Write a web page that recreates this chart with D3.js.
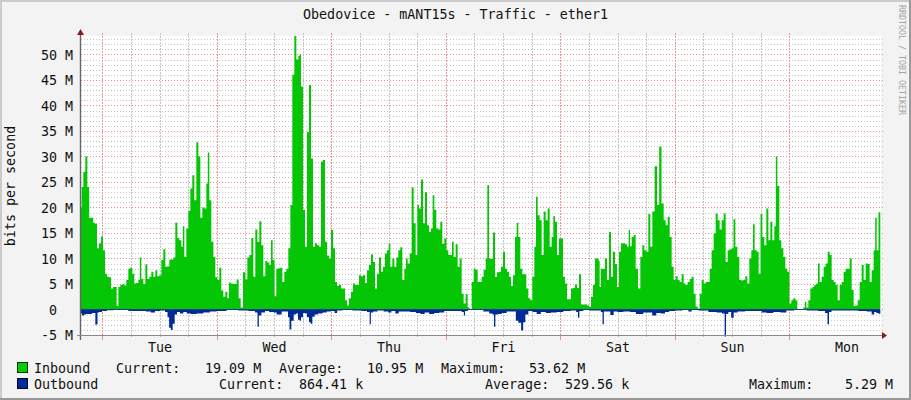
<![CDATA[<!DOCTYPE html>
<html><head><meta charset="utf-8">
<script src="https://d3js.org/d3.v7.min.js"></script>
<style>
html,body{margin:0;padding:0;background:#f3f3f3;overflow:hidden}
text{font-family:"DejaVu Sans Mono",monospace;font-size:13.33px;fill:#111;white-space:pre}
</style></head><body><svg id="c" width="911" height="400"></svg>
<script>
// Time is in ticks since the left edge of the chart (1 tick is about 4.2 minutes).
const tickBase = [-243, 657, 1557];
const inT1 = [243,247,253,259,265,270,276,282,288,294,300,306,312,318,324,330,336,342,348,352,358,364,370,376,382,388,394,400,406,412,418,421,427,433,439,445,451,457,463,469,475,481,487,493,499,505,511,517,523,529,535,541,547,550,556,562,568,574,580,586,592,598,604,610,616,622,625,631,637,643,649,655,661,667,673,679,685,689,695,701,707,713,719,725,733,739,745,751,757,763,769,775,781,787,793,799,805,811,815,821,826,832,838,844,850,856,862,868,874,880,886,892,898];
const inV1 = [20,24,27,30,24,18,18,17,16.8,12,13,14.3,11.6,7,6.4,6.3,4.1,4.4,4.4,0.7,4.4,4.8,5,4.7,5.8,8,8.2,7,5.1,5.2,5.8,10.2,6,5,8.8,6,6.4,7.4,6.4,7.7,6.5,6.7,9.7,11.8,8.4,8.5,9.8,9.8,10.2,17,14,13.6,12.3,16.3,10.3,15.9,19.3,23.7,26.3,21.4,32.8,30,18,20,19.8,24.7,30.8,21.4,13.3,10.3,6.3,5.8,8.2,3.7,2.5,3.5,2.2,5.3,5.1,5,5,5.9,2.2,0.4,7.3,5.9,10.2,10.7,14,6.4,15.7,13.3,17.3,12.6,6.5,9.5,9.2,8.7,13.6,9.7,2.6,8,8.1,8.2,5.4,7.4,8,12,20.5,46,53.62,49,49.7];
const inT2 = [0,6,12,18,24,30,36,42,48,54,60,66,72,78,84,90,96,102,108,114,120,126,132,138,144,150,156,162,168,174,180,186,192,198,204,210,216,222,228,234,240,246,252,258,264,268,274,280,286,292,298,304,310,316,320,326,332,338,344,350,354,360,366,372,378,384,390,396,400,406,412,418,424,430,436,442,448,454,458,464,470,476,482,488,494,500,506,512,518,524,530,536,542,548,554,560,564,570,576,582,588,594,600,606,612,618,624,630,636,642,648,652,658,664,670,676,682,688,694,700,706,710,716,722,728,734,740,746,752,758,762,768,774,780,786,792,798,804,810,816,822,828,834,840,846,852,858,864,870,876,882,888,894];
const inV2 = [50,43.7,19.5,12.3,34.8,44,29.6,12.3,13,12.6,12.3,29,29.3,13.3,10.6,10,15.6,12,5.4,4.6,4.8,4.1,4.1,1.8,0.8,2.2,3.5,5.1,4.8,4.8,6.7,6.5,6.7,5.2,7.7,8.7,10.8,9.3,4.1,7,10.2,7.4,8.4,11,11.6,12.9,8.4,10,8.4,10.2,11.6,12.2,5.8,8,10,9,11,23.9,16.9,10.7,20.5,19.8,25.5,16.9,23,16.5,15.2,15.9,22.4,19.5,15.9,15.7,17.2,12.9,13.9,11.6,10.7,10.7,13.3,10.3,12.8,8.4,10,3.1,1.2,3,0.4,0.1,5.4,8,7.8,5.4,5.4,6.4,7.8,10,24.4,10,9.9,15.1,6.4,7.3,7.4,8.4,11.3,8,7.4,6.4,4.6,6.7,14.2,17,14.2,8,6.9,6.9,4.1,2.2,1.8,6.4,12.3,22.1,18.5,17.5,10.7,19.2,17.5,19.8,12.3,14.2,18.3,17.2,10.7,13.9,13.9,6.4,5.1,2,2,4.1,4.2,4.9,4.2,6.9,1,1,1,0.8,0.5,2.5,4.8,10,10];
const inT3 = [-2,0,6,12,18,24,30,36,42,48,54,60,66,72,78,84,88,92,98,104,110,118,124,130,136,142,148,154,160,168,174,181,188,194,200,206,212,218,224,230,236,242,248,254,260,266,272,278,284,290,296,302,308,314,320,326,332,338,344,350,356,362,368,374,380,386,392,398,403,409,415,421,427,433,439,445,451,457,461,467,473,479,484,490,496,502,508,514,520,526,529,535,541,547,553,559,565,571,577,583,589,595,601,607,613,616,622,628,634,640,646,652,656,662,668,674,680,686,692,698,704,710,716,722,728,734,740,746,752,758,764,770,776,782,788,794,800,806,812,818,824,827,833,838,841];
const inV3 = [9.5,4.4,8,8,10,5.8,15.2,6.4,11.3,8.9,4.4,11.3,13,13,12.8,12.3,15.6,12.4,14.2,14.6,8,4.1,10.3,12.6,11.6,11.3,18.7,12.3,19.2,28.1,20.5,31.9,20.8,17.5,16.5,18.2,14.2,8.4,5.8,6.5,5.8,5.4,6.9,5.1,4.8,5.4,6,6.4,3.1,0.6,0.2,3.1,5.8,5.1,5.4,5.4,8,11.6,14.9,18.8,17.5,15.7,17.5,18.8,9.3,11.6,11.8,12,17.7,12.3,10.3,5.8,5.7,5.8,6.5,5.1,10,11.6,16.7,11.6,11.3,7,18.7,14.2,12.6,19.8,13.6,17.2,13.6,16.3,30,24.2,13.6,12,10.3,8,7.4,1.2,1.8,2.2,1.8,0.1,0.05,0.1,0.4,1.5,0.4,1.8,4.1,4.4,4.8,5.1,9,5.4,6.4,8.4,9,11.3,10.7,5.8,5.4,4.8,1.8,4.8,5.4,7.4,8,8,10,3.8,0.7,0.8,1.8,5.4,8.7,5.8,9,8.9,5.4,7.7,11.6,18,11.6,19.09,19.09];
const outT1 = [243,249,255,261,267,273,279,284,288,291,294,300,312,330,350,380,390,410,430,445,460,470,490,500,505,510,515,521,527,535,545,555,565,580,600,620,640,660,700,730,760,770,775,778,790,800,815,828,832,840,850,862,866,871,877,885,890,898];
const outV1 = [0.8,1.2,1,0.9,0.9,0.9,0.7,0.7,3,2.9,0.6,0.5,0.3,0.15,0.1,0.1,0.3,0.3,0.3,0.4,0.6,0.3,0.2,0.5,1.5,3.6,4,2.8,1,0.5,0.8,0.5,0.8,0.9,0.8,0.6,0.4,0.3,0.1,0.2,0.3,0.6,3.4,1.2,0.6,0.3,0.5,0.6,1,1,0.4,0.4,1.5,3.9,2.2,1,0.8,2];
const outT2 = [0,6,12,18,24,30,34,40,48,60,75,85,100,108,115,140,175,195,207,211,214,225,240,262,268,280,292,300,320,340,355,368,380,395,410,425,440,460,480,490,493,497,510,540,560,575,580,584,588,600,610,630,645,650,660,667,672,680,690,705,715,730,745,760,780,800,825,832,836,840,860,875,890];
const outV2 = [2.2,1.5,0.7,0.8,1.5,2.5,2.8,1.4,1,0.8,0.6,0.4,0.3,0.7,0.2,0.1,0.2,0.3,0.5,2.9,0.6,0.4,0.2,0.4,0.6,0.3,0.8,0.4,0.4,0.5,0.7,0.9,0.6,0.9,0.7,0.6,0.3,0.3,0.3,0.5,1.2,0.3,0.1,0.1,0.4,0.8,1,3.4,1,0.9,0.7,0.4,0.4,2.2,2.6,4.1,2.5,1,0.3,0.5,0.9,0.5,0.7,0.6,0.5,0.3,0.2,0.5,1.6,0.3,0.1,0.2,0.2];
const outT3 = [0,5,10,13,25,37,45,60,80,100,115,125,135,150,163,175,190,200,215,235,260,270,280,310,340,360,372,376,380,390,397,405,420,450,480,490,510,530,553,565,600,640,670,680,685,689,700,730,760,790,810,820,825,833,838,841];
const outV3 = [0.2,0.5,2.9,0.4,0.4,1.1,0.4,0.5,0.4,0.5,0.9,0.9,0.6,0.6,1.2,0.7,0.8,0.5,0.3,0.2,0.1,0.4,0.1,0.2,0.5,0.6,0.8,5.29,0.9,0.5,1.6,0.6,0.4,0.3,0.3,0.6,0.7,0.5,0.6,0.2,0.05,0.2,0.3,0.7,2.9,0.5,0.2,0.2,0.2,0.3,0.4,1,0.5,0.7,0.85,0.85];

const dayLabels = ["Tue","Wed","Thu","Fri","Sat","Sun","Mon"];
const yTickValues = [-5,0,5,10,15,20,25,30,35,40,45,50];
const titleText = "Obedovice - mANT15s - Traffic - ether1";
const legendRows = [
  {name:"Inbound", color:"#00cc00", stroke:"#003300", cells:["Current:","19.09 M","Average:","10.95 M","Maximum:","53.62 M"], at:[116,205,279,367,441,529]},
  {name:"Outbound", color:"#002a97", stroke:"#000033", cells:["Current:","864.41 k","Average:","529.56 k","Maximum:","5.29 M"], at:[219,299,485,565,749,845]}
];

const W = 911, H = 400, L = 81, R = 881, T = 36, B = 335;
const ticksPerHour = 343.5 / 24, firstMidnightTick = 64, totalTicks = 2400;
const hourTick = h => firstMidnightTick + h * ticksPerHour;

const zip = (ts, vs, base) => ts.map((t, i) => ({t: t + base, v: vs[i]}));
const inbound = [...zip(inT1, inV1, tickBase[0]), ...zip(inT2, inV2, tickBase[1]), ...zip(inT3, inV3, tickBase[2])];
const outbound = [...zip(outT1, outV1, tickBase[0]), ...zip(outT2, outV2, tickBase[1]), ...zip(outT3, outV3, tickBase[2])];

const x = d3.scaleLinear().domain([0, totalTicks]).range([L, R]);
const y = d3.scaleLinear().domain([-5, 53.62]).range([B, T]);

const svg = d3.select("#c");
svg.append("rect").attr("width", W).attr("height", H).attr("fill", "#f3f3f3");
svg.append("path").attr("d", `M0 0H${W}V2H2V${H}H0Z`).attr("fill", "#cbcbcb");
svg.append("path").attr("d", `M${W} ${H}H0V${H-2}H${W-2}V0H${W}Z`).attr("fill", "#999");
svg.append("rect").attr("x", L).attr("y", T).attr("width", R - L).attr("height", B - T).attr("fill", "#fff");

const snap = v => Math.round(v) + 0.5;
const hours = d3.range(0, 169, 6).map(h => h - 24).filter(h => hourTick(h) > 0 && hourTick(h) < totalTicks);
const gridMinorY = d3.range(-5, 54, 1);
svg.append("g").selectAll("line").data(gridMinorY.filter(v => v % 5)).join("line")
  .attr("x1", L).attr("x2", R + 3).attr("y1", d => snap(y(d))).attr("y2", d => snap(y(d)))
  .attr("stroke", "#c8c8c8").attr("stroke-dasharray", "1 2");
svg.append("g").selectAll("line").data(hours.filter(h => h % 24)).join("line")
  .attr("x1", d => snap(x(hourTick(d)))).attr("x2", d => snap(x(hourTick(d)))).attr("y1", T - 3).attr("y2", B)
  .attr("stroke", "#c4c4c4").attr("stroke-dasharray", "2 1");
svg.append("g").selectAll("line").data(yTickValues).join("line")
  .attr("x1", L).attr("x2", R + 3).attr("y1", d => snap(y(d))).attr("y2", d => snap(y(d)))
  .attr("stroke", "#e48c8c").attr("stroke-dasharray", "1 2");
svg.append("g").selectAll("line").data(hours.filter(h => !(h % 24))).join("line")
  .attr("x1", d => snap(x(hourTick(d)))).attr("x2", d => snap(x(hourTick(d)))).attr("y1", T - 3).attr("y2", B)
  .attr("stroke", "#e89a9a").attr("stroke-dasharray", "2 1");

const area = d3.area().curve(d3.curveStep).x(d => x(d.t)).y0(y(0));
svg.append("path").datum(inbound).attr("fill", "#05c605").attr("d", area.y1(d => y(d.v)));
svg.append("path").datum(outbound).attr("fill", "#002a97").attr("d", area.y1(d => y(-d.v)));
svg.append("line").attr("x1", L).attr("x2", R - 1).attr("y1", y(0)).attr("y2", y(0)).attr("stroke", "#0b2f8f").attr("stroke-width", 0.8);

// axes
const yFmt = d => d === 0 ? "0  " : d + " M";
const yAxis = d3.axisLeft(y).tickValues(yTickValues).tickFormat(yFmt).tickSize(0).tickPadding(8);
const gy = svg.append("g").attr("transform", `translate(${L},0)`).call(yAxis);
gy.select(".domain").remove();
gy.selectAll("text").attr("dy", "0.36em").style("font-family", '"DejaVu Sans Mono",monospace').style("font-size", "13.33px");

const xDay = d3.axisBottom(x).tickValues(dayLabels.map((d, i) => hourTick(12 + 24 * i)))
  .tickFormat((d, i) => dayLabels[i]).tickSize(0).tickPadding(8);
const gx = svg.append("g").attr("transform", `translate(0,${B})`).call(xDay);
gx.select(".domain").remove();
gx.selectAll("text").style("font-family", '"DejaVu Sans Mono",monospace').style("font-size", "13.33px");

svg.append("g").selectAll("line").data(hours).join("line")
  .attr("x1", d => snap(x(hourTick(d)))).attr("x2", d => snap(x(hourTick(d))))
  .attr("y1", B).attr("y2", d => B + (d % 24 ? 2 : 5))
  .attr("stroke", d => d % 24 ? "#bbb" : "#e09090");

svg.append("line").attr("x1", L - 0.5).attr("x2", L - 0.5).attr("y1", T - 2).attr("y2", B + 5).attr("stroke", "#666").attr("stroke-width", 1.4);
svg.append("line").attr("x1", L - 4).attr("x2", R + 2).attr("y1", B + 0.5).attr("y2", B + 0.5).attr("stroke", "#888").attr("stroke-width", 1.2);
svg.append("path").attr("d", `M${L-0.5} ${T-7}L${L+3} ${T-1}H${L-4}Z`).attr("fill", "#8b1a1a");
svg.append("path").attr("d", `M${R+6} ${B+0.5}L${R+1} ${B-3}V${B+4}Z`).attr("fill", "#8b1a1a");

// texts
svg.append("text").attr("x", W / 2).attr("y", 19).attr("text-anchor", "middle").text(titleText);
svg.append("text").attr("transform", "translate(15,186) rotate(-90)").attr("text-anchor", "middle").text("bits per second");
svg.append("text").attr("transform", "translate(899,5) rotate(90)").style("font-size", "8.3px").style("fill", "#a4a4a4").text("RRDTOOL / TOBI OETIKER");

legendRows.forEach((r, i) => {
  const yy = 373 + i * 16;
  svg.append("rect").attr("x", 17.5).attr("y", yy - 10.5).attr("width", 10).attr("height", 10).attr("fill", r.color).attr("stroke", r.stroke);
  svg.append("text").attr("x", 34).attr("y", yy).text(r.name);
  r.cells.forEach((c, k) => svg.append("text").attr("x", r.at[k]).attr("y", yy).text(c));
});
</script></body></html>]]>
